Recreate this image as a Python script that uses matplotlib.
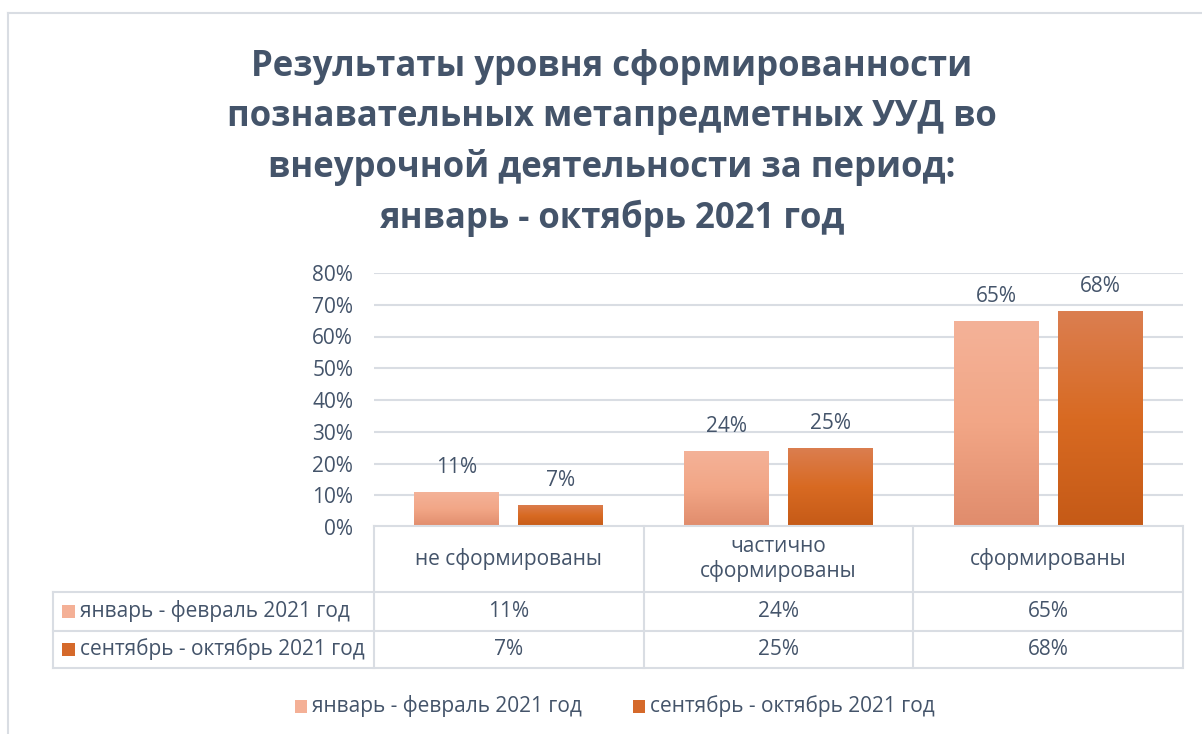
import numpy as np
import matplotlib.pyplot as plt
from matplotlib.colors import LinearSegmentedColormap
from matplotlib.patches import Rectangle
from matplotlib.lines import Line2D
import matplotlib.transforms as mtransforms

# data
categories = ["не сформированы", "частично\nсформированы", "сформированы"]
series_names = ["январь - февраль 2021 год", "сентябрь - октябрь 2021 год"]
jan_feb = [11, 24, 65]
sep_oct = [7, 25, 68]
yticks = [0, 10, 20, 30, 40, 50, 60, 70, 80]

title = ("Результаты уровня сформированности\n"
         "познавательных метапредметных УУД во\n"
         "внеурочной деятельности за период:\n"
         "январь - октябрь 2021 год")

TEXT = "#44546A"
GRID = "#D9DDE3"
FONT = "Open Sans"
FS = 15

cmaps = [
    LinearSegmentedColormap.from_list("s1", ["#E08C6C", "#F2A686", "#F4B298"]),
    LinearSegmentedColormap.from_list("s2", ["#C55A17", "#D86A22", "#DB7E50"]),
]
solid = ["#F4B096", "#D5692A"]

plt.rcParams["font.family"] = [FONT, "DejaVu Sans"]

fig = plt.figure(figsize=(12.02, 7.34), dpi=100)
W, H = 1202, 734

# chart frame (left/top edges visible)
fig.add_artist(Line2D([8 / W, 8 / W], [0, 1 - 13 / H], color=GRID, lw=1.5))
fig.add_artist(Line2D([8 / W, 1], [1 - 13 / H, 1 - 13 / H], color=GRID, lw=1.5))

fig.text(0.509, 1 - 143 / H, title, ha="center", va="center", fontsize=25,
         fontweight="bold", color=TEXT, linespacing=1.5)

ax = fig.add_axes([374 / W, 1 - 527 / H, 809 / W, 254 / H])
x = np.arange(len(categories))
width = 0.315
offset = (width + 0.07) / 2

for i, vals in enumerate([jan_feb, sep_oct]):
    pos = x - offset if i == 0 else x + offset
    bars = ax.bar(pos, vals, width, color="none", zorder=2)
    for b, v in zip(bars, vals):
        grad = np.linspace(1, 0, 100).reshape(-1, 1)
        im = ax.imshow(grad, extent=[b.get_x(), b.get_x() + b.get_width(), 0, v],
                       aspect="auto", cmap=cmaps[i], zorder=2)
        im.set_clip_path(b)
        ax.text(b.get_x() + b.get_width() / 2, v + 4.3, f"{v}%", ha="center",
                va="bottom", fontsize=FS, color=TEXT)

ax.set_xlim(-0.5, 2.5)
ax.set_ylim(0, 80)
ax.set_yticks(yticks)
ax.set_yticklabels([f"{t}%" for t in yticks], fontsize=FS, color=TEXT)
ax.set_xticks([])
ax.tick_params(axis="y", length=0, pad=15)
ax.grid(axis="y", color=GRID, lw=1.5, zorder=0)
ax.set_axisbelow(True)
for s in ax.spines.values():
    s.set_visible(False)

# data table under the plot
trans = mtransforms.blended_transform_factory(ax.transData, fig.transFigure)


def fy(py):
    return 1 - py / H


top, r1, r2, bot = fy(526), fy(592), fy(631), fy(668)
left_px = 53 / W

# borders
for xb in [-0.5, 0.5, 1.5, 2.5]:
    fig.add_artist(Line2D([xb, xb], [bot, top], transform=trans, color=GRID, lw=1.5))
fig.add_artist(Line2D([left_px, left_px], [bot, r1], color=GRID, lw=1.5))
for yb in [r1, r2, bot]:
    fig.add_artist(Line2D([left_px, 1182 / W], [yb, yb], color=GRID, lw=1.5))
fig.add_artist(Line2D([374 / W, 1182 / W], [top, top], color=GRID, lw=1.5))

for i, c in enumerate(categories):
    fig.text(i, (top + r1) / 2, c, transform=trans, ha="center", va="center",
             fontsize=FS, color=TEXT, linespacing=1.2)

for row, (name, vals) in enumerate(zip(series_names, [jan_feb, sep_oct])):
    yc = (r1 + r2) / 2 if row == 0 else (r2 + bot) / 2
    fig.add_artist(Rectangle((62 / W, yc - 6.5 / H), 13 / W, 13 / H,
                             facecolor=solid[row], edgecolor="none"))
    fig.text(80 / W, yc, name, ha="left", va="center", fontsize=FS, color=TEXT)
    for i, v in enumerate(vals):
        fig.text(i, yc, f"{v}%", transform=trans, ha="center", va="center",
                 fontsize=FS, color=TEXT)

# legend at bottom
for name, col, px in zip(series_names, solid, [295, 633]):
    yc = fy(706)
    fig.add_artist(Rectangle((px / W, yc - 6.5 / H), 12 / W, 13 / H,
                             facecolor=col, edgecolor="none"))
    fig.text((px + 17) / W, yc, name, ha="left", va="center", fontsize=FS,
             color=TEXT)

fig.savefig("out.png", dpi=100, facecolor="white")
